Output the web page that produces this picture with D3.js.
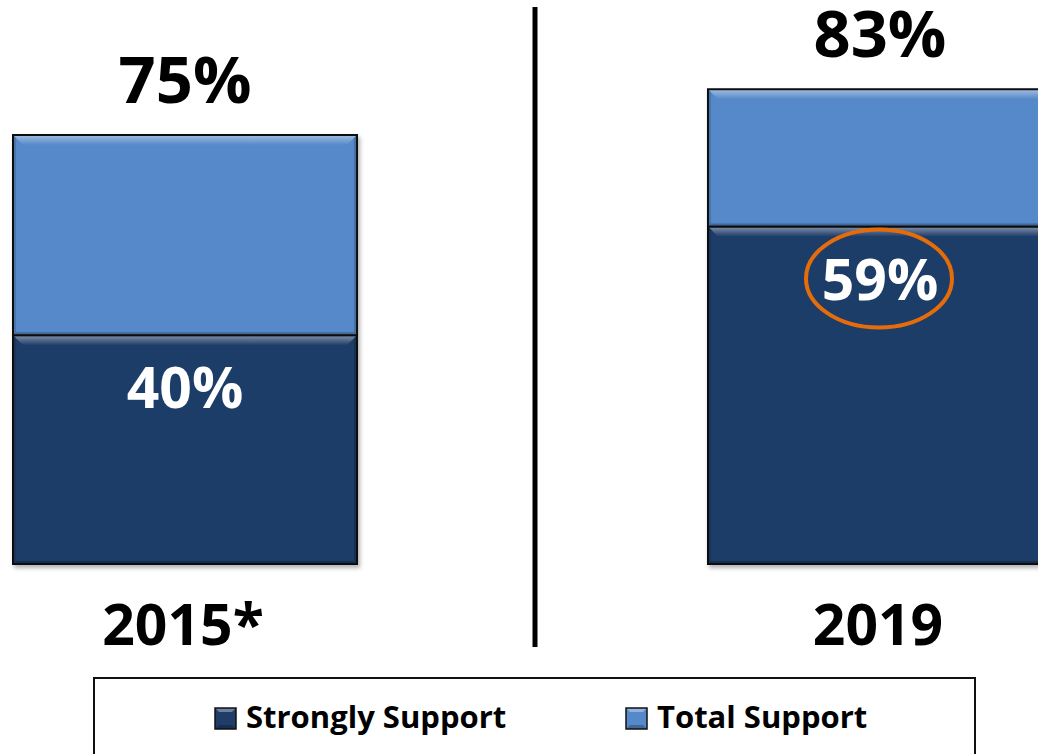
<!DOCTYPE html>
<html>
<head>
<meta charset="utf-8">
<script src="https://cdn.jsdelivr.net/npm/d3@7"></script>
<style>
  html, body { margin: 0; padding: 0; background: #fff; }
  svg { display: block; }
  text { font-family: "Open Sans", "DejaVu Sans", sans-serif; font-weight: bold; }
</style>
</head>
<body>
<svg id="chart" width="1038" height="754"></svg>
<script>
// data
const years = ['2015*', '2019']
const strongly = [40, 59]      // Strongly Support
const total = [75, 83]         // Total Support
const seriesNames = ['Strongly Support', 'Total Support']
const highlighted = ['2019']   // circled label

const colors = {
  strong: '#1f3d68',
  total: '#5689c9'
}

const svg = d3.select('#chart')
const defs = svg.append('defs')

// soft shadow like the office bevel
const shadow = defs.append('filter').attr('id', 'shadow')
  .attr('x', '-5%').attr('y', '-5%').attr('width', '115%').attr('height', '115%')
shadow.append('feDropShadow')
  .attr('dx', 2).attr('dy', 3).attr('stdDeviation', 2)
  .attr('flood-color', '#000').attr('flood-opacity', 0.3)

function lighten(c, k) { return d3.interpolateRgb(c, '#fff')(k) }
function darken(c, k) { return d3.interpolateRgb(c, '#000')(k) }

Object.entries(colors).forEach(([name, c]) => {
  const g = defs.append('linearGradient').attr('id', 'top-' + name)
    .attr('x1', 0).attr('y1', 0).attr('x2', 0).attr('y2', 1)
  g.append('stop').attr('offset', '0%').attr('stop-color', lighten(c, 0.45))
  g.append('stop').attr('offset', '100%').attr('stop-color', c)
})

const x = d3.scaleBand()
  .domain(years)
  .range([13, 1052])
  .paddingInner(0.505)
  .paddingOuter(0)

const y = d3.scaleLinear()
  .domain([0, 100])
  .range([564, -8])

const rows = years.map((yr, i) => ({ year: yr, strong: strongly[i], total: total[i] }))

// bevelled rectangle
function bevelRect(g, x0, y0, w, h, name) {
  const c = colors[name]
  const b = 10
  const seg = g.append('g')
  seg.append('rect')
    .attr('x', x0).attr('y', y0).attr('width', w).attr('height', h)
    .attr('fill', c)
  // top slant
  seg.append('polygon')
    .attr('points', [[x0, y0], [x0 + w, y0], [x0 + w - b, y0 + b], [x0 + b, y0 + b]].join(' '))
    .attr('fill', `url(#top-${name})`)
  // left
  seg.append('polygon')
    .attr('points', [[x0, y0], [x0 + 3, y0 + 3], [x0 + 3, y0 + h - 3], [x0, y0 + h]].join(' '))
    .attr('fill', darken(c, 0.15))
  // right
  seg.append('polygon')
    .attr('points', [[x0 + w, y0], [x0 + w - 3, y0 + 3], [x0 + w - 3, y0 + h - 3], [x0 + w, y0 + h]].join(' '))
    .attr('fill', darken(c, 0.2))
  // bottom
  seg.append('polygon')
    .attr('points', [[x0, y0 + h], [x0 + 3, y0 + h - 3], [x0 + w - 3, y0 + h - 3], [x0 + w, y0 + h]].join(' '))
    .attr('fill', darken(c, 0.25))
  seg.append('rect')
    .attr('x', x0).attr('y', y0).attr('width', w).attr('height', h)
    .attr('fill', 'none').attr('stroke', '#111').attr('stroke-width', 2)
}

const bars = svg.append('g').attr('class', 'bars')
rows.forEach(d => {
  const g = bars.append('g').attr('filter', 'url(#shadow)')
  bevelRect(g, x(d.year), y(d.strong), x.bandwidth(), y(0) - y(d.strong), 'strong')
  bevelRect(g, x(d.year), y(d.total), x.bandwidth(), y(d.strong) - y(d.total), 'total')
})

/* ------- labels ------- */
const labels = svg.append('g').attr('class', 'labels')

labels.selectAll('.total-label')
  .data(rows)
  .enter()
  .append('text')
  .attr('class', 'total-label')
  .attr('x', d => x(d.year) + x.bandwidth() / 2)
  .attr('y', d => y(d.total) - 32)
  .attr('text-anchor', 'middle')
  .style('font-size', '65px')
  .attr('fill', '#000')
  .text(d => d.total + '%')

labels.selectAll('.strong-label')
  .data(rows)
  .enter()
  .append('text')
  .attr('class', 'strong-label')
  .attr('x', d => x(d.year) + x.bandwidth() / 2)
  .attr('y', d => y(d.strong) + 73)
  .attr('text-anchor', 'middle')
  .style('font-size', '57px')
  .attr('fill', '#fff')
  .text(d => d.strong + '%')

// orange ring round the highlighted value
labels.selectAll('.ring')
  .data(rows.filter(d => highlighted.includes(d.year)))
  .enter()
  .append('ellipse')
  .attr('class', 'ring')
  .attr('cx', d => x(d.year) + x.bandwidth() / 2 - 1)
  .attr('cy', d => y(d.strong) + 52)
  .attr('rx', 73)
  .attr('ry', 49)
  .attr('fill', 'none')
  .attr('stroke', '#e46c0a')
  .attr('stroke-width', 4)

labels.selectAll('.year-label')
  .data(rows)
  .enter()
  .append('text')
  .attr('class', 'year-label')
  .attr('x', d => x(d.year) + x.bandwidth() / 2 - 2)
  .attr('y', y(0) + 81)
  .attr('text-anchor', 'middle')
  .style('font-size', '57px')
  .attr('fill', '#000')
  .text(d => d.year)

// divider between the years
svg.append('line')
  .attr('x1', 535).attr('x2', 535)
  .attr('y1', 7).attr('y2', 647)
  .attr('stroke', '#000').attr('stroke-width', 5)

/* ------- legend ------- */
const legend = svg.append('g').attr('class', 'legend')
legend.append('rect')
  .attr('x', 94).attr('y', 678).attr('width', 881).attr('height', 100)
  .attr('fill', '#fff').attr('stroke', '#111').attr('stroke-width', 2)

const legendX = [215, 626]
const legendKeys = ['strong', 'total']
seriesNames.forEach((name, i) => {
  const item = legend.append('g').attr('transform', `translate(${legendX[i]},708)`)
  const key = legendKeys[i]
  const c = colors[key]
  item.append('rect').attr('width', 21).attr('height', 21).attr('fill', c)
  item.append('polygon')
    .attr('points', '0,0 21,0 17,4 4,4').attr('fill', lighten(c, 0.35))
  item.append('polygon')
    .attr('points', '0,21 21,21 17,17 4,17').attr('fill', darken(c, 0.25))
  item.append('rect').attr('width', 21).attr('height', 21)
    .attr('fill', 'none').attr('stroke', '#111').attr('stroke-width', 1.5)
  item.append('text')
    .attr('x', 31).attr('y', 20)
    .style('font-size', '31px')
    .attr('fill', '#000')
    .text(name)
})
</script>
</body>
</html>
